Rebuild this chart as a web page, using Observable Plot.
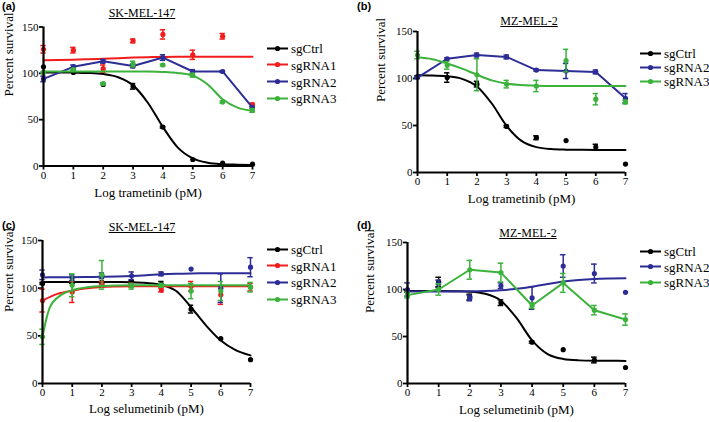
<!DOCTYPE html>
<html><head><meta charset="utf-8">
<script src="https://cdn.jsdelivr.net/npm/d3@7"></script>
<script src="https://cdn.jsdelivr.net/npm/@observablehq/plot@0.6"></script>
<style>
body{margin:0;background:#fff;}
#root{position:relative;width:709px;height:422px;overflow:hidden;font-family:"Liberation Serif","DejaVu Serif",serif;color:#000;}
.panel{position:absolute;}
.tag{position:absolute;font-family:"Liberation Sans",Arial,sans-serif;font-weight:bold;font-size:11px;line-height:1;}
.title{position:absolute;font-size:12px;line-height:1;text-decoration:underline;transform:translate(-50%,-50%);white-space:nowrap;}
.leg{position:absolute;font-size:13px;line-height:1;white-space:nowrap;display:flex;align-items:center;transform:translateY(-50%);}
.leg svg{margin-right:3px;}
</style></head><body><div id="root"></div>
<script>
const doses = [0, 1, 2, 3, 4, 5, 6, 7];
const yTicks = [0, 50, 100, 150];
const fitX = [0, 0.5, 1, 1.5, 2, 2.5, 3, 3.5, 4, 4.5, 5, 5.5, 6, 6.5, 7];
const panelTitles = ["SK-MEL-147", "MZ-MEL-2", "SK-MEL-147", "MZ-MEL-2"];
const panelTags = ["(a)", "(b)", "(c)", "(d)"];
const xLabels = ["Log trametinib (pM)", "Log trametinib (pM)", "Log selumetinib (pM)", "Log selumetinib (pM)"];
const yLabel = "Percent survival";

const aCtrlMean = [107, 101, 88, 86, 42, 7, 3, 2];
const aCtrlSem  = [0, 0, 0, 3, 1, 0, 0, 0];
const aRNA1Mean = [126, 125, 105, 135, 142, 120, 140, 66];
const aRNA1Sem  = [4, 3, 4, 2, 5, 5, 3, 2];
const aRNA2Mean = [94, 107, 113, 108, 117, 102, 102, 63];
const aRNA2Sem  = [3, 2, 2, 2, 3, 2, 1, 1];
const aRNA3Mean = [101, 104, 89, 110, 109, 98, 69, 60];
const aRNA3Sem  = [1, 1, 1, 3, 1, 2, 1, 2];
const aCtrlFit  = [101, 101, 100.8, 100.4, 99.2, 95.8, 87, 68, 42, 19.8, 8.2, 3.5, 1.9, 1.4, 1.1];
const aRNA1Fit  = [114, 114.3, 114.7, 115.2, 115.8, 116.4, 117, 117.4, 117.7, 117.9, 118, 118, 118, 118, 118];
const aRNA3Fit  = [102, 102, 102, 102, 102, 102, 102, 101.9, 101.5, 100.4, 97.5, 88, 72, 63, 59.5];

const bCtrlMean = [102, 101, 94, 49, 37, 34, 27, 9];
const bCtrlSem  = [1, 5, 3, 1, 2, 0, 3, 0];
const bRNA2Mean = [101, 121, 125, 123, 109, 108, 107, 79];
const bRNA2Sem  = [1, 1, 2, 2, 1, 8, 2, 5];
const bRNA3Mean = [125, 114, 104, 94, 92, 119, 78, 75];
const bRNA3Sem  = [4, 4, 17, 4, 6, 12, 6, 2];
const bCtrlFit  = [103.4, 103.2, 102.3, 99.6, 91.5, 73.4, 49.6, 33.6, 27, 24.9, 24.3, 24.1, 24.05, 24, 24];
const bRNA3Fit  = [122.5, 120.5, 116, 110.5, 104, 98, 94.5, 93, 92.3, 92, 92, 92, 92, 92, 92];

const cCtrlMean = [105, 106, 106, 106, 104, 78, 47, 25];
const cCtrlSem  = [1, 1, 1, 2, 3, 4, 0, 0];
const cRNA1Mean = [87, 96, 104, 103, 98, 102, 93, 101];
const cRNA1Sem  = [12, 11, 3, 2, 2, 5, 10, 4];
const cRNA2Mean = [114, 111, 113, 113, 115, 120, 100, 122];
const cRNA2Sem  = [5, 3, 3, 4, 2, 0, 15, 10];
const cRNA3Mean = [49, 103, 114, 102, 103, 97, 97, 101];
const cRNA3Sem  = [8, 12, 15, 3, 2, 8, 10, 5];
const cCtrlFit  = [106.5, 106.5, 106.5, 106.5, 106.5, 106.4, 106.2, 105.5, 103.5, 97, 80, 61, 45, 35, 29.5];
const cRNA1Fit  = [87, 94, 97.4, 99.8, 101.3, 101.8, 102, 102, 102, 102, 102, 102, 102, 102, 102];
const cRNA2Fit  = [111.3, 111.4, 111.5, 111.7, 112, 112.3, 112.8, 113.6, 114.6, 115.2, 115.5, 115.6, 115.6, 115.6, 115.6];
const cRNA3FitX = [0, 0.1, 0.25, 0.5, 0.75, 1, 1.5, 2, 3, 4, 5, 6, 7];
const cRNA3FitY = [49, 64, 80, 90, 95, 98, 101, 102.3, 103, 103, 103, 103, 103];

const dCtrlMean = [98, 108, 92, 86, 44, 36, 25, 17];
const dCtrlSem  = [1, 5, 3, 3, 1, 0, 3, 0];
const dRNA2Mean = [100, 106, 91, 104, 91, 125, 117, 97];
const dRNA2Sem  = [7, 4, 3, 3, 12, 12, 10, 0];
const dRNA3Mean = [94, 100, 121, 118, 83, 107, 78, 68];
const dRNA3Sem  = [3, 6, 10, 10, 3, 10, 5, 6];
const dCtrlFit  = [98.5, 98.5, 98.4, 98.2, 97.7, 95.4, 88, 69.7, 45.9, 31.3, 26.1, 24.6, 24.2, 24.1, 24.05];
const dRNA2Fit  = [98, 98, 98, 98, 98.2, 98.5, 99.3, 100.8, 103, 105.8, 108.5, 110.2, 111.2, 111.7, 112];

const COLORS = {sgCtrl: "#000000", sgRNA1: "#f21c1c", sgRNA2: "#2d2d96", sgRNA3: "#3cb23c"};
const SERIF = "'Liberation Serif', 'DejaVu Serif', serif";

const panels = [
  {left: 0, top: 0, width: 355, height: 210, mt: 26.5, mb: 44.5, ml: 43, mr: 103,
   titleX: 142, titleY: 13, tagX: 2, tagY: 1, xlabDy: 31, ylabDx: -35,
   legX: 267, legY: 48, legStep: 16.8,
   series: [
     {name: "sgCtrl", mean: aCtrlMean, sem: aCtrlSem, fx: fitX, fy: aCtrlFit},
     {name: "sgRNA1", mean: aRNA1Mean, sem: aRNA1Sem, fx: fitX, fy: aRNA1Fit},
     {name: "sgRNA2", mean: aRNA2Mean, sem: aRNA2Sem},
     {name: "sgRNA3", mean: aRNA3Mean, sem: aRNA3Sem, fx: fitX, fy: aRNA3Fit}]},
  {left: 355, top: 0, width: 354, height: 210, mt: 31, mb: 38, ml: 62, mr: 84,
   titleX: 529, titleY: 21, tagX: 357, tagY: 1, xlabDy: 30, ylabDx: -37,
   legX: 640, legY: 53, legStep: 14,
   series: [
     {name: "sgCtrl", mean: bCtrlMean, sem: bCtrlSem, fx: fitX, fy: bCtrlFit},
     {name: "sgRNA2", mean: bRNA2Mean, sem: bRNA2Sem},
     {name: "sgRNA3", mean: bRNA3Mean, sem: bRNA3Sem, fx: fitX, fy: bRNA3Fit}]},
  {left: 0, top: 210, width: 355, height: 212, mt: 30, mb: 39, ml: 42, mr: 105,
   titleX: 142, titleY: 227, tagX: 2, tagY: 220, xlabDy: 29, ylabDx: -34,
   legX: 267, legY: 249, legStep: 16.7,
   series: [
     {name: "sgCtrl", mean: cCtrlMean, sem: cCtrlSem, fx: fitX, fy: cCtrlFit},
     {name: "sgRNA1", mean: cRNA1Mean, sem: cRNA1Sem, fx: fitX, fy: cRNA1Fit},
     {name: "sgRNA2", mean: cRNA2Mean, sem: cRNA2Sem, fx: fitX, fy: cRNA2Fit},
     {name: "sgRNA3", mean: cRNA3Mean, sem: cRNA3Sem, fx: cRNA3FitX, fy: cRNA3FitY}]},
  {left: 355, top: 210, width: 354, height: 212, mt: 32, mb: 39, ml: 52, mr: 84,
   titleX: 528, titleY: 233, tagX: 357, tagY: 220, xlabDy: 30, ylabDx: -38,
   legX: 640, legY: 251, legStep: 15.5,
   series: [
     {name: "sgCtrl", mean: dCtrlMean, sem: dCtrlSem, fx: fitX, fy: dCtrlFit},
     {name: "sgRNA2", mean: dRNA2Mean, sem: dRNA2Sem, fx: fitX, fy: dRNA2Fit},
     {name: "sgRNA3", mean: dRNA3Mean, sem: dRNA3Sem}]}
];

const root = document.getElementById("root");
const CAP = 0.09;

panels.forEach((p, pi) => {
  const marks = [];
  p.series.forEach(s => {
    const color = COLORS[s.name];
    const pts = doses.map((x, i) => ({x, y: s.mean[i], lo: s.mean[i] - s.sem[i], hi: s.mean[i] + s.sem[i], e: s.sem[i]}));
    const eb = pts.filter(d => d.e > 0);
    if (s.fx) {
      const fit = s.fx.map((x, i) => ({x, y: s.fy[i]}));
      marks.push(Plot.line(fit, {x: "x", y: "y", stroke: color, strokeWidth: 2, curve: "monotone-x"}));
    } else {
      marks.push(Plot.line(pts, {x: "x", y: "y", stroke: color, strokeWidth: 2}));
    }
    marks.push(Plot.ruleX(eb, {x: "x", y1: "lo", y2: "hi", stroke: color, strokeWidth: 1.5}));
    marks.push(Plot.ruleY(eb, {y: "hi", x1: d => d.x - CAP, x2: d => d.x + CAP, stroke: color, strokeWidth: 1.5}));
    marks.push(Plot.ruleY(eb, {y: "lo", x1: d => d.x - CAP, x2: d => d.x + CAP, stroke: color, strokeWidth: 1.5}));
    marks.push(Plot.dot(pts, {x: "x", y: "y", r: 2.6, fill: color, stroke: "none"}));
  });

  const chart = Plot.plot({
    width: p.width, height: p.height,
    marginTop: p.mt, marginBottom: p.mb, marginLeft: p.ml, marginRight: p.mr,
    style: {fontFamily: SERIF, fontSize: "11px", color: "#000", background: "transparent", overflow: "visible"},
    x: {domain: [0, 7]},
    y: {domain: [0, 150]},
    marks: [
      Plot.axisX(doses, {tickSize: 4, tickPadding: 1, tickFormat: "d", label: null, strokeWidth: 1.8, fontSize: 11, fontFamily: SERIF}),
      Plot.axisY(yTicks, {tickSize: 4, tickPadding: 1, label: null, strokeWidth: 1.8, fontSize: 11, fontFamily: SERIF}),
      ...marks,
      Plot.ruleY([0], {stroke: "#000", strokeWidth: 2.2}),
      Plot.ruleX([0], {stroke: "#000", strokeWidth: 2.2}),
      Plot.text([xLabels[pi]], {frameAnchor: "bottom", dy: p.xlabDy, fontSize: 13, fontFamily: SERIF}),
      Plot.text([yLabel], {frameAnchor: "left", dx: p.ylabDx, rotate: -90, fontSize: 13, fontFamily: SERIF})
    ]
  });
  const wrap = document.createElement("div");
  wrap.className = "panel";
  wrap.style.left = p.left + "px";
  wrap.style.top = p.top + "px";
  wrap.appendChild(chart);
  root.appendChild(wrap);

  const tag = document.createElement("div");
  tag.className = "tag";
  tag.textContent = panelTags[pi];
  tag.style.left = p.tagX + "px";
  tag.style.top = p.tagY + "px";
  root.appendChild(tag);

  const title = document.createElement("div");
  title.className = "title";
  title.textContent = panelTitles[pi];
  title.style.left = p.titleX + "px";
  title.style.top = p.titleY + "px";
  root.appendChild(title);

  p.series.forEach((s, i) => {
    const color = COLORS[s.name];
    const item = document.createElement("div");
    item.className = "leg";
    item.style.left = p.legX + "px";
    item.style.top = (p.legY + i * p.legStep) + "px";
    item.innerHTML = `<svg width="21" height="8"><line x1="0" y1="4" x2="21" y2="4" stroke="${color}" stroke-width="2"/><circle cx="10.5" cy="4" r="2.6" fill="${color}"/></svg><span>${s.name}</span>`;
    root.appendChild(item);
  });
});
</script></body></html>
